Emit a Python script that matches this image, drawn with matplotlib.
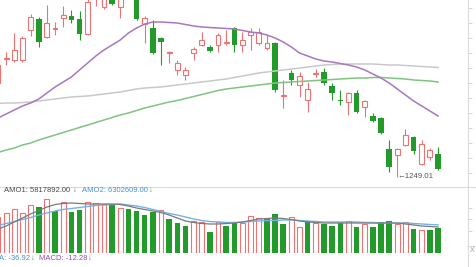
import matplotlib
matplotlib.use("Agg")
import matplotlib.pyplot as plt
from matplotlib.lines import Line2D
import numpy as np

plt.rcParams['font.family'] = ['Liberation Sans', 'DejaVu Sans']

# ---- daily candles (index points) ----
opens = [1437, 1486, 1483, 1483, 1543, 1565, 1529, 1546, 1567, 1571,
         1565, 1535, 1609, 1589, 1619, 1589, 1643, 1611, 1555, 1547,
         1527, 1498, 1463, 1453, 1497, 1513, 1509, 1513, 1518, 1547,
         1513, 1533, 1517, 1507, 1517, 1412, 1457, 1433, 1403, 1456,
         1459, 1431, 1404, 1399, 1417, 1389, 1371, 1367, 1305, 1293,
         1313, 1329, 1275, 1289, 1295]
highs = [1479, 1499, 1537, 1531, 1575, 1569, 1593, 1559, 1591, 1583,
         1581, 1611, 1647, 1623, 1627, 1623, 1653, 1619, 1571, 1563,
         1529, 1501, 1483, 1469, 1509, 1539, 1513, 1537, 1543, 1549,
         1539, 1547, 1547, 1533, 1519, 1443, 1463, 1459, 1439, 1465,
         1467, 1437, 1423, 1419, 1423, 1403, 1377, 1369, 1323, 1307,
         1345, 1331, 1323, 1307, 1309]
lows = [1427, 1473, 1479, 1479, 1531, 1509, 1527, 1533, 1549, 1557,
        1523, 1533, 1591, 1585, 1593, 1567, 1607, 1563, 1517, 1495,
        1473, 1477, 1453, 1443, 1483, 1511, 1499, 1499, 1513, 1499,
        1499, 1503, 1513, 1503, 1419, 1387, 1433, 1409, 1379, 1449,
        1433, 1403, 1393, 1373, 1377, 1369, 1359, 1335, 1259, 1249.01,
        1311, 1295, 1273, 1283, 1263]
closes = [1473, 1488, 1503, 1527, 1569, 1519, 1557, 1548, 1573, 1563,
          1535, 1599, 1639, 1615, 1595, 1613, 1613, 1565, 1567, 1497,
          1519, 1500, 1477, 1463, 1505, 1523, 1501, 1533, 1520, 1513,
          1523, 1539, 1539, 1517, 1423, 1414, 1443, 1451, 1425, 1458,
          1437, 1417, 1402, 1417, 1379, 1401, 1361, 1337, 1269, 1305,
          1333, 1301, 1315, 1303, 1265]

# moving averages on the price chart
ma_short = [1367, 1375, 1383, 1391, 1397, 1405, 1417, 1429, 1439, 1449,
            1463, 1477, 1491, 1503, 1513, 1523, 1537, 1547, 1555, 1559,
            1559, 1558, 1557, 1554, 1551, 1549, 1548, 1547, 1546, 1545,
            1542, 1539, 1537, 1533, 1527, 1519, 1509, 1497, 1491, 1485,
            1481, 1479, 1476, 1473, 1469, 1463, 1455, 1447, 1437, 1425,
            1413, 1401, 1391, 1381, 1371]
ma_mid = [1396, 1397, 1397, 1398, 1399, 1401, 1403, 1405, 1407, 1409,
          1410, 1411, 1413, 1415, 1417, 1419, 1422, 1425, 1427, 1428,
          1429, 1431, 1433, 1435, 1437, 1439, 1441, 1443, 1445, 1448,
          1451, 1454, 1457, 1459, 1461, 1463, 1465, 1467, 1469, 1471,
          1473, 1474, 1475, 1475, 1475, 1475, 1475, 1474, 1473, 1473,
          1472, 1471, 1470, 1469, 1468]
ma_long = [1298, 1303, 1307, 1313, 1317, 1323, 1328, 1333, 1338, 1343,
           1348, 1353, 1358, 1363, 1368, 1373, 1377, 1382, 1387, 1391,
           1395, 1399, 1402, 1406, 1410, 1414, 1418, 1422, 1425, 1427,
           1429, 1431, 1433, 1435, 1437, 1438, 1439, 1440, 1441, 1442,
           1443, 1444, 1445, 1446, 1447, 1447, 1448, 1448, 1447, 1446,
           1445, 1443, 1442, 1441, 1439]

# ---- turnover (millions) ----
volume = [8.06, 8.95, 9.85, 8.95, 10.74, 10.29, 12.09, 9.40, 11.41, 9.18,
          9.62, 11.41, 11.19, 10.97, 10.74, 10.07, 9.85, 9.40, 8.50, 9.18,
          9.62, 7.61, 6.71, 6.04, 7.16, 6.94, 4.70, 6.94, 6.04, 6.71,
          6.71, 8.28, 7.83, 7.83, 8.73, 6.49, 8.06, 5.82, 7.16, 6.71,
          6.49, 6.04, 6.71, 7.16, 5.82, 6.49, 5.82, 6.94, 7.16, 6.49,
          6.94, 5.37, 5.15, 5.15, 5.60]
vol_up = [1, 1, 1, 1, 1, 0, 1, 0, 1, 0,
          0, 1, 1, 1, 0, 1, 0, 0, 0, 0,
          1, 0, 0, 0, 1, 1, 0, 1, 0, 0,
          1, 1, 1, 0, 0, 0, 1, 1, 0, 1,
          0, 0, 0, 1, 0, 1, 0, 0, 0, 1,
          1, 0, 1, 0, 0]
amo1 = [5.37, 6.04, 6.94, 7.83, 8.73, 9.51, 10.29, 10.85, 11.08, 11.19,
        11.08, 10.97, 10.97, 10.97, 10.97, 10.85, 10.52, 10.07, 9.74, 9.40,
        9.06, 8.50, 7.83, 7.16, 6.83, 6.60, 6.49, 6.49, 6.60, 6.71,
        6.94, 7.27, 7.61, 7.72, 7.83, 7.72, 7.50, 7.16, 6.94, 6.83,
        6.71, 6.71, 6.71, 6.71, 6.71, 6.71, 6.71, 6.71, 6.71, 6.71,
        6.49, 6.27, 6.04, 5.93, 5.817892]
amo2 = [6.15, 6.60, 7.05, 7.50, 7.94, 8.50, 8.95, 9.40, 9.74, 9.96,
        10.18, 10.41, 10.63, 10.74, 10.85, 10.97, 10.74, 10.52, 10.18, 9.74,
        9.29, 8.84, 8.50, 8.06, 7.61, 7.27, 7.05, 6.94, 6.83, 6.83,
        6.94, 7.05, 7.16, 7.27, 7.27, 7.39, 7.39, 7.27, 7.16, 7.05,
        6.94, 6.94, 6.94, 6.94, 6.94, 6.83, 6.83, 6.71, 6.71, 6.71,
        6.71, 6.60, 6.49, 6.38, 6.302609]

dea_value = -36.92
macd_value = -12.28
price_ticks = [1257, 1287, 1317, 1347, 1377, 1407, 1437, 1467, 1497, 1527, 1557, 1587]
vol_ticks = [5, 7.5, 10]

RED = '#ef7272'
GREEN = '#239b2b'
PURPLE = '#a678bf'
GREY_MA = '#c9c9c9'
GREEN_MA = '#7fc47f'
LINE = '#dcdcdc'

W, H = 476, 267
fig = plt.figure(figsize=(W / 100, H / 100), dpi=100)
fig.patch.set_facecolor('white')


def box(x0, y0, x1, y1):
    return [x0 / W, 1 - y1 / H, (x1 - x0) / W, (y1 - y0) / H]


def fpos(x, y):
    return x / W, 1 - y / H


ax = fig.add_axes(box(0, 0, 468, 186))
axv = fig.add_axes(box(0, 187, 468, 253))
XLIM = (0.245, 57.67)

o = np.array(opens, float)
h = np.array(highs, float)
l = np.array(lows, float)
c = np.array(closes, float)
idx = np.arange(len(o))
up = c >= o
lo_b = np.minimum(o, c)
hi_b = np.maximum(o, c)
bh = np.maximum(hi_b - lo_b, 0.6)

# candle wicks
ax.vlines(idx[up], hi_b[up], h[up], color=RED, lw=0.8, zorder=2)
ax.vlines(idx[up], l[up], lo_b[up], color=RED, lw=0.8, zorder=2)
ax.vlines(idx[~up], l[~up], h[~up], color=GREEN, lw=0.8, zorder=2)
# candle bodies
ax.bar(idx[up], bh[up], bottom=lo_b[up], width=0.6, facecolor='white',
       edgecolor=RED, linewidth=0.8, zorder=3)
ax.bar(idx[~up], bh[~up], bottom=lo_b[~up], width=0.68, color=GREEN,
       linewidth=0, zorder=3)

ax.plot(idx, ma_mid, color=GREY_MA, lw=1.1, zorder=4)
ax.plot(idx, ma_long, color=GREEN_MA, lw=1.1, zorder=4)
ax.plot(idx, ma_short, color=PURPLE, lw=1.1, zorder=4)

low_i = int(np.argmin(l))
ax.text(low_i + 0.02, l[low_i], f"\u2190{l[low_i]:.2f}", ha='left', va='center',
        fontsize=5.6, color='#555555', zorder=5)

ax.set_xlim(*XLIM)
ax.set_ylim(1231, 1603)
ax.set_xticks([])
ax.yaxis.tick_right()
ax.set_yticks(price_ticks)
ax.tick_params(axis='y', length=3, width=0.6, color='#cfcfcf',
               labelright=False, labelleft=False, direction='out')
for s in ax.spines.values():
    s.set_visible(False)

# turnover bars
vu = np.array(vol_up, bool)
v = np.array(volume, float)
axv.bar(idx[vu], v[vu], width=0.6, facecolor='white', edgecolor=RED,
        linewidth=0.8, zorder=2)
axv.bar(idx[~vu], v[~vu], width=0.68, color=GREEN, linewidth=0, zorder=2)
axv.plot(idx, amo2, color='#74b2e4', lw=1.0, zorder=3)
axv.plot(idx, amo1, color='#7a7a7a', lw=0.9, zorder=3)
axv.set_xlim(*XLIM)
axv.set_ylim(0, 66 * 0.2238)
axv.set_xticks([])
axv.yaxis.tick_right()
axv.set_yticks(vol_ticks)
axv.tick_params(axis='y', length=3, width=0.6, color='#cfcfcf',
                labelright=False, labelleft=False, direction='out')
for s in axv.spines.values():
    s.set_visible(False)

# frame lines
fig.add_artist(Line2D([0, 1], [1 - 186.5 / H] * 2, color=LINE, lw=0.8,
                      transform=fig.transFigure))
fig.add_artist(Line2D([468 / W] * 2, [0, 1], color=LINE, lw=0.8,
                      transform=fig.transFigure))
fig.add_artist(Line2D([467 / W, 1], [1 - 245.5 / H] * 2, color=LINE, lw=0.8,
                      transform=fig.transFigure))
fig.text(*fpos(470, 250), "X", fontsize=5, color='#999999', ha='left', va='center')

# indicator captions
ty = 191
fig.text(*fpos(4, ty), f"AMO1: {amo1[-1] * 1e6:.2f}", fontsize=5.5,
         color='#4a4a4a', ha='left', va='center')
fig.text(*fpos(73, ty), "\u2193", fontsize=5.5, color='#3aa03a', ha='left', va='center')
fig.text(*fpos(82, ty), f"AMO2: {amo2[-1] * 1e6:.2f}", fontsize=5.5,
         color='#4a90d0', ha='left', va='center')
fig.text(*fpos(149, ty), "\u2193", fontsize=5.5, color='#3aa03a', ha='left', va='center')

by = 258
fig.text(*fpos(-1, by), f"A: {dea_value:.2f}", fontsize=5.5, color='#4a90d0',
         ha='left', va='center')
fig.text(*fpos(31, by), "\u2193", fontsize=5.5, color='#3aa03a', ha='left', va='center')
fig.text(*fpos(39, by), f"MACD: {macd_value:.2f}", fontsize=5.5, color='#8e4fb0',
         ha='left', va='center')
fig.text(*fpos(88, by), "\u2193", fontsize=5.5, color='#3aa03a', ha='left', va='center')

fig.savefig('out.png', dpi=100, facecolor='white')
